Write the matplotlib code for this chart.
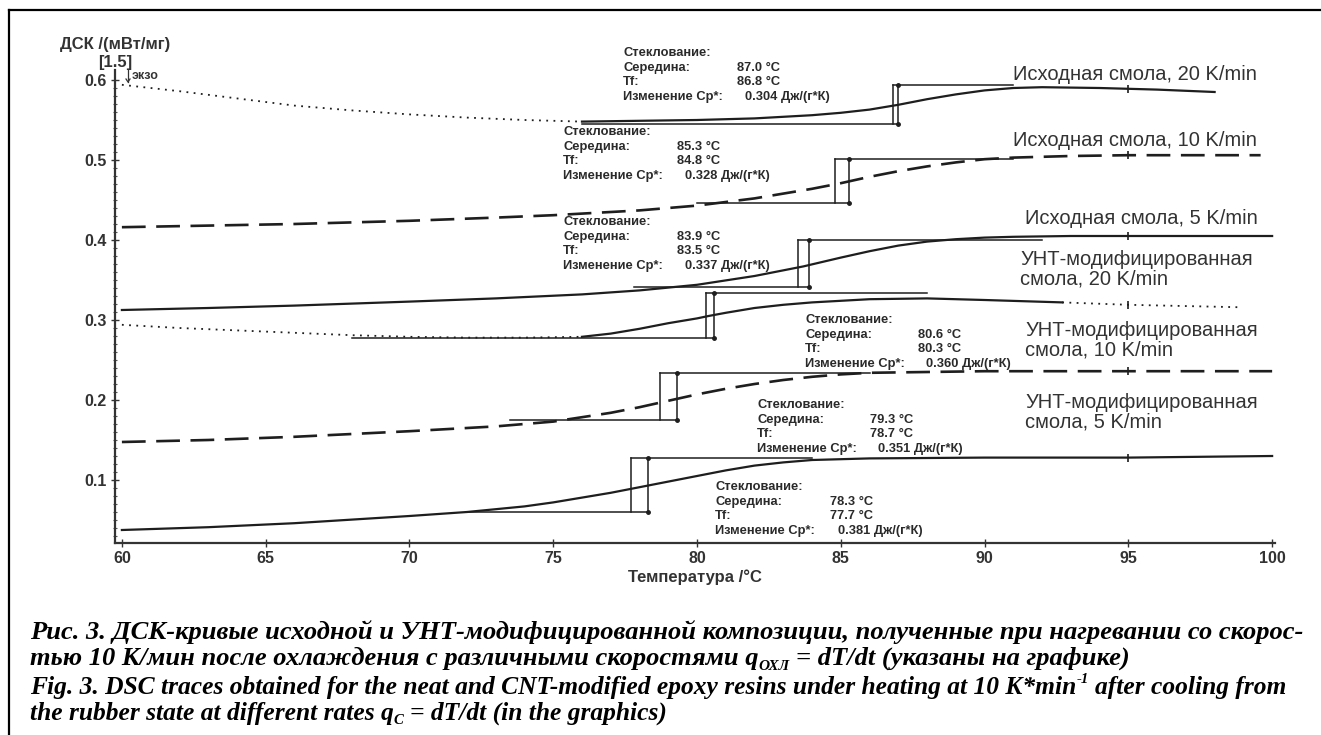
import numpy as np
import matplotlib
matplotlib.use("Agg")
import matplotlib.pyplot as plt
from matplotlib.lines import Line2D

plt.rcParams['font.family'] = ['Liberation Sans', 'DejaVu Sans']

W, H = 1321, 735
INK = "#1e1e1e"

# ---- curves (T in °C, DSC signal in mW/mg) ----
# neat resin, 20 K/min: dotted part, then solid part
t_n20_dot = [60, 62, 64, 66, 68, 70, 72, 74, 76]
y_n20_dot = [0.594, 0.586, 0.577, 0.568, 0.562, 0.557, 0.553, 0.550, 0.548]
t_n20 = [76, 78, 80, 82, 84, 85, 86, 87, 88, 89, 90, 91, 92, 94, 96, 98]
y_n20 = [0.548, 0.549, 0.550, 0.552, 0.556, 0.559, 0.563, 0.569, 0.576,
         0.582, 0.587, 0.590, 0.591, 0.590, 0.588, 0.585]

# neat resin, 10 K/min (dashed)
t_n10 = [60, 63, 66, 70, 73, 75, 78, 80, 82, 84, 85, 86, 87, 88, 89, 90,
         91, 93, 95, 97, 99.6]
y_n10 = [0.416, 0.418, 0.420, 0.424, 0.428, 0.431, 0.437, 0.443, 0.452,
         0.464, 0.471, 0.479, 0.486, 0.492, 0.497, 0.501, 0.503, 0.505,
         0.506, 0.506, 0.506]

# neat resin, 5 K/min (solid)
t_n5 = [60, 63, 66, 70, 73, 76, 78, 80, 82, 83.7, 85, 86, 87, 88, 89, 90,
        91, 93, 95, 100]
y_n5 = [0.3125, 0.315, 0.318, 0.323, 0.327, 0.332, 0.337, 0.344, 0.355,
        0.367, 0.378, 0.386, 0.393, 0.398, 0.401, 0.403, 0.404, 0.405,
        0.405, 0.405]

# CNT-modified, 20 K/min: dotted / solid / dotted
t_c20_dot = [60, 62, 64, 66, 68, 70, 72, 74, 76]
y_c20_dot = [0.294, 0.290, 0.287, 0.284, 0.281, 0.279, 0.278, 0.278, 0.279]
t_c20 = [76, 77, 78, 79, 80, 80.4, 81, 82, 83, 84, 86, 88, 90, 92.7]
y_c20 = [0.279, 0.283, 0.289, 0.296, 0.302, 0.305, 0.309, 0.315, 0.319,
         0.322, 0.326, 0.327, 0.325, 0.322]
t_c20_tail = [92.7, 95, 98.8]
y_c20_tail = [0.322, 0.319, 0.316]

# CNT-modified, 10 K/min (dashed)
t_c10 = [60, 63, 66, 70, 73, 75, 77, 78, 79, 80, 81, 82, 83, 84, 85, 86,
         88, 90, 95, 100]
y_c10 = [0.1475, 0.150, 0.154, 0.161, 0.167, 0.173, 0.184, 0.191, 0.199,
         0.207, 0.214, 0.220, 0.225, 0.229, 0.232, 0.234, 0.235, 0.236,
         0.236, 0.236]

# CNT-modified, 5 K/min (solid)
t_c5 = [60, 63, 66, 70, 72, 74, 75, 76, 77, 78, 79, 80, 81, 82, 83, 84, 86,
        90, 95, 100]
y_c5 = [0.0375, 0.041, 0.046, 0.055, 0.060, 0.067, 0.072, 0.078, 0.084,
        0.091, 0.098, 0.105, 0.112, 0.118, 0.122, 0.125, 0.127, 0.128,
        0.128, 0.130]

# glass transition constructions (order: n20, n10, n5, c20, c10, c5)
tg_tf = [86.8, 84.8, 83.5, 80.3, 78.7, 77.7]
tg_mid = [87.0, 85.3, 83.9, 80.6, 79.3, 78.3]
base_lo = [0.545, 0.446, 0.341, 0.277, 0.175, 0.060]
base_hi = [0.594, 0.501, 0.400, 0.334, 0.234, 0.1275]
lo_from = [76.0, 80.0, 77.8, 68.0, 73.5, 72.0]
hi_to = [91.0, 91.0, 92.0, 88.0, 86.0, 84.0]
dcp = ["0.304", "0.328", "0.337", "0.360", "0.351", "0.381"]

series_labels = ["Исходная смола, 20 K/min",
                 "Исходная смола, 10 K/min",
                 "Исходная смола, 5 K/min",
                 "УНТ-модифицированная\nсмола, 20 K/min",
                 "УНТ-модифицированная\nсмола, 10 K/min",
                 "УНТ-модифицированная\nсмола, 5 K/min"]

x_ticks = [60, 65, 70, 75, 80, 85, 90, 95, 100]
y_ticks = [0.1, 0.2, 0.3, 0.4, 0.5, 0.6]


def fx(px):
    return px / W


def fy(py):
    return 1 - py / H


fig = plt.figure(figsize=(W / 100, H / 100), dpi=100)
ax = fig.add_axes([fx(115), fy(543), fx(1275) - fx(115), fy(70) - fy(543)])
ax.set_xlim(59.76, 100.1)
ax.set_ylim(0.02125, 0.6125)

dash_long = (0, (9, 4))
dots = (0, (1, 3))
lw = 1.6
ax.plot(t_n20_dot, y_n20_dot, color=INK, lw=1.3, ls=dots)
ax.plot(t_n20, y_n20, color=INK, lw=lw)
ax.plot(t_n10, y_n10, color=INK, lw=lw + 0.3, ls=dash_long)
ax.plot(t_n5, y_n5, color=INK, lw=lw)
ax.plot(t_c20_dot, y_c20_dot, color=INK, lw=1.3, ls=dots)
ax.plot(t_c20, y_c20, color=INK, lw=lw)
ax.plot(t_c20_tail, y_c20_tail, color=INK, lw=1.3, ls=dots)
ax.plot(t_c10, y_c10, color=INK, lw=lw + 0.3, ls=dash_long)
ax.plot(t_c5, y_c5, color=INK, lw=lw)

# small tick marks where each curve crosses 95 °C
all_curves = [(t_n20, y_n20), (t_n10, y_n10), (t_n5, y_n5),
              (t_c20_tail, y_c20_tail), (t_c10, y_c10), (t_c5, y_c5)]
for tt, yy in all_curves:
    ax.plot([95], [np.interp(95, tt, yy)], marker='|', ms=6, mew=1.2, color=INK)

# step constructions
for i in range(6):
    ax.plot([lo_from[i], tg_mid[i]], [base_lo[i], base_lo[i]], color=INK, lw=1.1)
    ax.plot([tg_tf[i], hi_to[i]], [base_hi[i], base_hi[i]], color=INK, lw=1.1)
    ax.plot([tg_tf[i], tg_tf[i]], [base_lo[i], base_hi[i]], color=INK, lw=1.1)
    ax.plot([tg_mid[i], tg_mid[i]], [base_lo[i], base_hi[i]], color=INK, lw=1.1)
    ax.plot([tg_mid[i], tg_mid[i]], [base_lo[i], base_hi[i]], ls='none',
            marker='o', ms=2.5, color=INK)

for s in ['top', 'right']:
    ax.spines[s].set_visible(False)
for s in ['left', 'bottom']:
    ax.spines[s].set_linewidth(1.6)
    ax.spines[s].set_color("#333333")
ax.set_xticks(x_ticks)
ax.set_yticks(y_ticks)
ax.set_xticklabels([str(v) for v in x_ticks])
ax.set_yticklabels([f"{v:.1f}" for v in y_ticks])
ax.set_yticks(np.arange(0.03, 0.61, 0.01), minor=True)
ax.tick_params(axis='both', which='major', direction='inout', length=6,
               width=1.0, color="#333333", labelsize=11.5, labelcolor="#333333",
               pad=3)
ax.tick_params(axis='y', which='minor', direction='inout', length=3,
               width=0.8, color="#555555")
for lab in ax.get_xticklabels() + ax.get_yticklabels():
    lab.set_fontweight('bold')

# axis titles as in the instrument printout
fig.text(fx(115), fy(44), "ДСК /(мВт/мг)", ha='center', va='center',
         fontsize=12, fontweight='bold', color="#333333")
fig.text(fx(115), fy(63), "[1.5]", ha='center', va='center',
         fontsize=12, fontweight='bold', color="#333333")
fig.text(fx(132), fy(76), "экзо", ha='left', va='center',
         fontsize=9, fontweight='bold', color="#333333")
fig.add_artist(Line2D([fx(128), fx(128)], [fy(70), fy(82)], lw=0.9,
                      color="#333333"))
fig.add_artist(Line2D([fx(126), fx(128), fx(130)], [fy(79), fy(82), fy(79)],
                      lw=0.9, color="#333333"))
fig.text(fx(695), fy(577), "Температура /°C", ha='center', va='center',
         fontsize=12, fontweight='bold', color="#333333")

# result blocks: left x, value x, first line centre (px)
blocks = [(623, 737, 53), (563, 677, 132), (563, 677, 222),
          (805, 918, 320), (757, 870, 405), (715, 830, 487)]
for i, (bx, vx, by) in enumerate(blocks):
    rows = [("Стеклование:", ""),
            ("Середина:", f"{tg_mid[i]:.1f} °C"),
            ("Tf:", f"{tg_tf[i]:.1f} °C"),
            ("Изменение Cp*:", f"{dcp[i]} Дж/(г*К)")]
    for k, (a, b) in enumerate(rows):
        yy = by + k * 14.7
        fig.text(fx(bx), fy(yy), a, ha='left', va='center', fontsize=9.3,
                 fontweight='bold', color="#2a2a2a")
        if b:
            xv = vx + (8 if k == 3 else 0)
            fig.text(fx(xv), fy(yy), b, ha='left', va='center', fontsize=9.3,
                     fontweight='bold', color="#2a2a2a")

# curve labels at the right
label_pos = [(1013, 75), (1013, 140), (1025, 218), (1020, 269), (1025, 340),
             (1025, 412)]
for txt, (lx, ly) in zip(series_labels, label_pos):
    fig.text(fx(lx), fy(ly), txt, ha='left', va='center', fontsize=14.5,
             color="#333333", linespacing=1.05)

# frame of the printed figure
fig.add_artist(Line2D([fx(9), fx(9)], [fy(10), fy(735)], lw=1.6, color="black"))
fig.add_artist(Line2D([fx(9), fx(1321)], [fy(10), fy(10)], lw=1.6, color="black"))

# caption, bold italic serif, with sub/superscripts drawn as separate runs
cap_font = dict(family=['Liberation Serif', 'DejaVu Serif'], style='italic',
                weight='bold', color="black")
renderer = fig.canvas.get_renderer()
line1 = ("Рис. 3. ДСК-кривые исходной и УНТ-модифицированной композиции, "
         "полученные при нагревании со скорос-")
line3 = ("Fig. 3. DSC traces obtained for the neat and CNT-modified "
         "epoxy resins under heating at 10 K*min-1 after cooling from")


def fit_size(text, width_px):
    probe = fig.text(0, 0, text, fontsize=15, **cap_font)
    w = probe.get_window_extent(renderer=renderer).width
    probe.remove()
    return 15 * width_px / w


size_ru = fit_size(line1, 1278)
size_en = min(size_ru, fit_size(line3, 1268))


def draw_runs(x_px, y_px, runs, size):
    space_px = size * 100 / 72 * 0.25
    for txt, kind in runs:
        if txt.startswith(" "):
            x_px += space_px
        fs = size * (0.58 if kind else 1.0)
        dy = {"": 0.0, "sub": 0.17, "sup": -0.42}[kind] * size * 100 / 72
        t = fig.text(fx(x_px), fy(y_px + dy), txt.strip(), fontsize=fs,
                     ha='left', va='baseline', **cap_font)
        x_px += t.get_window_extent(renderer=renderer).width
        if txt.endswith(" "):
            x_px += space_px


draw_runs(30, 639, [(line1, "")], size_ru)
draw_runs(30, 665, [("тью 10 К/мин после охлаждения с различными скоростями q", ""),
                    ("ОХЛ", "sub"),
                    (" = dT/dt (указаны на графике)", "")], size_ru)
draw_runs(30, 694, [("Fig. 3. DSC traces obtained for the neat and CNT-modified "
                     "epoxy resins under heating at 10 K*min", ""),
                    ("-1", "sup"),
                    (" after cooling from", "")], size_en)
draw_runs(30, 720, [("the rubber state at different rates q", ""),
                    ("C", "sub"),
                    (" = dT/dt (in the graphics)", "")], size_en)

fig.savefig("out.png", dpi=100)
